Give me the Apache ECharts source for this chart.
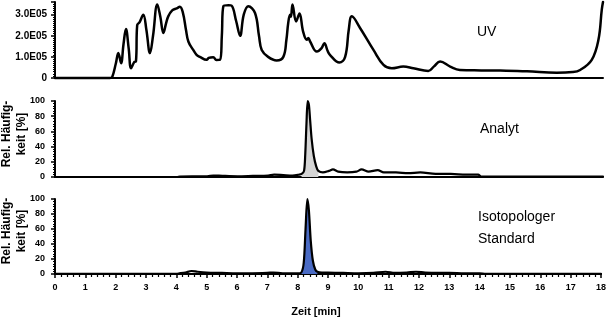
<!DOCTYPE html>
<html><head><meta charset="utf-8">
<script src="https://cdn.jsdelivr.net/npm/echarts@6/dist/echarts.min.js"></script>
<style>html,body{margin:0;padding:0;background:#fff}#c{width:609px;height:319px}</style>
</head><body><div id="c"></div>
<script>
// UV trace (signal in units of 1E05)
const uvTime = [0,1.8,1.88,2.0,2.08,2.17,2.25,2.33,2.42,2.5,2.6,2.66,2.7,2.78,2.9,3.0,3.12,3.22,3.36,3.46,3.56,3.65,3.72,3.85,4.0,4.1,4.2,4.3,4.38,4.54,4.65,4.76,4.98,5.05,5.2,5.3,5.42,5.48,5.53,5.7,5.8,5.95,6.08,6.2,6.35,6.57,6.7,6.79,7.0,7.28,7.5,7.6,7.66,7.72,7.75,7.8,7.92,8.03,8.15,8.27,8.32,8.38,8.6,8.75,8.85,8.95,9.03,9.34,9.53,9.65,9.75,10.02,10.46,10.79,11.06,11.44,11.77,12.26,12.45,12.65,12.98,13.3,14.0,14.62,15.5,16.48,17.0,17.25,17.63,17.85,17.96,18.0];
const uvSignal = [0,0,0.05,0.7,1.18,0.7,1.6,2.32,1.4,0.46,0.75,0.8,2.5,2.65,3.0,2.3,1.18,2.0,3.48,2.9,2.13,2.6,2.92,3.2,3.3,3.37,3.1,2.3,1.73,1.33,1.1,1.0,0.86,0.95,0.98,0.85,0.86,2.0,3.4,3.45,3.43,2.7,2.0,3.0,3.4,3.08,2.0,1.33,1.0,0.83,1.0,1.8,2.6,3.0,2.9,3.48,2.68,3.05,2.2,1.81,1.9,1.73,1.25,1.4,1.65,1.3,1.1,0.73,1.0,2.3,2.92,2.37,1.33,0.62,0.46,0.54,0.46,0.33,0.55,0.78,0.54,0.38,0.36,0.35,0.32,0.25,0.28,0.38,0.86,1.81,3.24,3.6];
// Analyt (relative abundance, %)
const analytTime = [0,4.0,4.1,4.5,5.0,5.2,5.5,6.0,6.5,7.0,7.2,7.5,7.8,8.0,8.1,8.18,8.22,8.26,8.3,8.34,8.38,8.43,8.5,8.58,8.65,8.8,9.0,9.13,9.3,9.6,9.9,10.07,10.3,10.6,10.8,11.2,11.6,12.0,12.5,13.0,13.5,13.9,14.0,18.0];
const analytSignal = [0,0,0.5,1,1,2,1.5,1,1.5,2,3,2.5,2,3,4,8,30,70,100,95,75,50,28,14,8,6,8,10,7,6,7,10,7,9,6,6,5,6,4,4,3,3,0.5,0.5];
// Isotopologer Standard (relative abundance, %)
const stdTime = [0,4.0,4.1,4.3,4.5,4.7,5.0,5.5,6.0,6.5,7.0,7.2,7.5,8.0,8.12,8.2,8.26,8.32,8.37,8.43,8.5,8.58,8.65,8.8,9.0,9.5,10.0,10.5,10.9,11.2,11.6,11.9,12.2,12.6,13.0,13.5,14.0,14.2,18.0];
const stdSignal = [0.3,0.3,0.8,2,4,3,2,1.5,1,1,1.5,2,1,1,2,15,60,100,85,45,18,6,3,2,2,1.5,1,1.5,3,1.5,2,3,2,1.5,1.5,1,1,0.3,0.3];
// Axis labels / ranges
const timeMin = 0, timeMax = 18, timeStep = 1;
const uvTicks = [0, 1, 2, 3];
const uvMax = 3.6;
const relTicks = [0, 20, 40, 60, 80, 100];
const peakWindow = [8.1, 8.7];
const panelLabels = ['UV', 'Analyt', 'Isotopologer\nStandard'];
const yName = 'Rel. Häufig-\nkeit [%]';
const xName = 'Zeit [min]';

const pairs = (t, v) => t.map((x, i) => [x, v[i]]);
const inPeak = (t, v) => pairs(t, v).filter(p => p[0] >= peakWindow[0] && p[0] <= peakWindow[1]);

const FONT = '"Liberation Sans", Arial, sans-serif';
const L = 55, R = 6;
const grids = [
  {left: L, right: R, top: 2, height: 76},
  {left: L, right: R, top: 101, height: 76},
  {left: L, right: R, top: 199, height: 75}
];
const axisLine = {show: true, lineStyle: {color: '#000', width: 2}};
const xAxes = grids.map((g, i) => ({
  type: 'value', gridIndex: i, min: timeMin, max: timeMax, interval: timeStep,
  axisLine: axisLine, splitLine: {show: false},
  axisTick: {show: i === 2, length: 4, lineStyle: {color: '#000', width: 1.5}},
  minorTick: {show: i === 2, splitNumber: 5, length: 3, lineStyle: {color: '#000', width: 1.2}},
  axisLabel: {show: i === 2, fontFamily: FONT, fontWeight: 'bold', fontSize: 9, color: '#000', margin: 9}
}));
const yAxes = [
  {type: 'value', gridIndex: 0, min: 0, max: uvMax, interval: 1,
   axisLabel: {fontFamily: FONT, fontWeight: 'bold', fontSize: 10, color: '#000', margin: 8, showMaxLabel: false,
     formatter: v => uvTicks.includes(v) ? (v === 0 ? '0' : v.toFixed(1) + 'E05') : ''},
   minorTick: {show: true, splitNumber: 10, length: 2, lineStyle: {color: '#000', width: 1}}},
  {type: 'value', gridIndex: 1, min: 0, max: 100, interval: 20,
   axisLabel: {fontFamily: FONT, fontWeight: 'bold', fontSize: 9, color: '#000', margin: 10,
     formatter: v => relTicks.includes(v) ? String(v) : ''},
   minorTick: {show: true, splitNumber: 6, length: 2, lineStyle: {color: '#000', width: 1}}},
  {type: 'value', gridIndex: 2, min: 0, max: 100, interval: 20,
   axisLabel: {fontFamily: FONT, fontWeight: 'bold', fontSize: 9, color: '#000', margin: 10,
     formatter: v => relTicks.includes(v) ? String(v) : ''},
   minorTick: {show: true, splitNumber: 6, length: 2, lineStyle: {color: '#000', width: 1}}}
].map(a => Object.assign(a, {
  axisLine: axisLine, splitLine: {show: false},
  axisTick: {show: true, length: 4, lineStyle: {color: '#000', width: 1.5}}
}));

const line = (i, data, w, sm) => ({type: 'line', xAxisIndex: i, yAxisIndex: i, data, showSymbol: false, symbol: 'none',
  smooth: sm, lineStyle: {color: '#000', width: w, join: 'round', cap: 'round'}, z: 3, animation: false, clip: false});
const fill = (i, data, color) => ({type: 'line', xAxisIndex: i, yAxisIndex: i, data, showSymbol: false, symbol: 'none',
  smooth: 0.3, lineStyle: {width: 0}, areaStyle: {color, opacity: 1}, z: 2, animation: false});

const txt = (x, y, text, extra) => Object.assign({type: 'text', x, y,
  style: Object.assign({text, fontFamily: FONT, fontSize: 14, fill: '#000'}, extra || {})});

const chart = echarts.init(document.getElementById('c'), null, {renderer: 'canvas'});
chart.setOption({
  animation: false,
  grid: grids,
  xAxis: xAxes,
  yAxis: yAxes,
  series: [
    line(0, pairs(uvTime, uvSignal), 2.5, 0.4),
    fill(1, inPeak(analytTime, analytSignal), '#d4d4d4'),
    line(1, pairs(analytTime, analytSignal), 2.2, 0.3),
    fill(2, inPeak(stdTime, stdSignal), '#4a6bc4'),
    line(2, pairs(stdTime, stdSignal), 2.2, 0.3)
  ],
  graphic: [
    txt(477, 25, panelLabels[0]),
    txt(480, 122, panelLabels[1]),
    txt(478, 206, panelLabels[2], {lineHeight: 22}),
    {type: 'text', x: 14.5, y: 134, rotation: Math.PI / 2,
     style: {text: yName, fontFamily: FONT, fontSize: 12, fontWeight: 'bold', fill: '#000', lineHeight: 15, align: 'center', verticalAlign: 'middle'}},
    {type: 'text', x: 14.5, y: 231, rotation: Math.PI / 2,
     style: {text: yName, fontFamily: FONT, fontSize: 12, fontWeight: 'bold', fill: '#000', lineHeight: 15, align: 'center', verticalAlign: 'middle'}},
    {type: 'text', x: 316, y: 312,
     style: {text: xName, fontFamily: FONT, fontSize: 11, fontWeight: 'bold', fill: '#000', align: 'center', verticalAlign: 'middle'}}
  ]
});
</script></body></html>
